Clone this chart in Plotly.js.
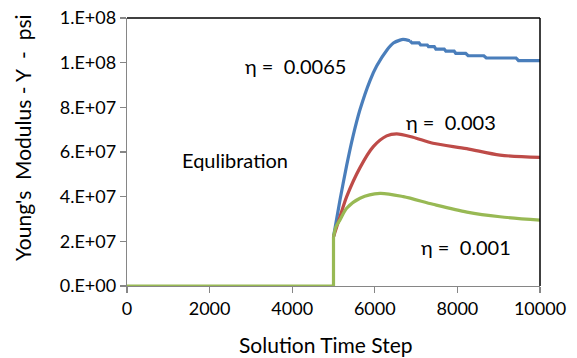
<!DOCTYPE html>
<html>
<head>
<meta charset="utf-8">
<script src="https://cdn.plot.ly/plotly-3.0.1.min.js"></script>
<style>html,body{margin:0;padding:0;background:#fff;}#chart{width:577px;height:358px;}</style>
</head>
<body>
<div id="chart"></div>
<script>
// Equilibration segment (shared by all three series)
const xFlat = [0, 5000, 5000];
const yFlat = [0, 0, 2.2e7];
// Series: eta = 0.0065 (blue) - rise, then stepped tail
const xBlueRise = [5000, 5157, 5319, 5472, 5642, 5884, 6045, 6295, 6450, 6610, 6683, 6850];
const yBlueRise = [2.2e7, 3.85e7, 5.4e7, 6.7e7, 7.9e7, 9.2e7, 9.85e7, 1.057e8, 1.088e8, 1.101e8, 1.104e8, 1.098e8];
const xBlueTail = [6850, 6900, 7070, 7110, 7270, 7300, 7440, 7480, 7680, 7720, 7920, 7960, 8200, 8260, 8640, 8700, 9420, 9480, 10000];
const yBlueTail = [1.098e8, 1.089e8, 1.089e8, 1.079e8, 1.079e8, 1.072e8, 1.072e8, 1.061e8, 1.061e8, 1.052e8, 1.052e8, 1.042e8, 1.042e8, 1.031e8, 1.031e8, 1.021e8, 1.021e8, 1.009e8, 1.009e8];
// Series: eta = 0.003 (red)
const xRed = [5000, 5157, 5319, 5642, 5964, 6287, 6530, 6925, 7409, 8225, 9031, 10000];
const yRed = [2.2e7, 3.10e7, 4.0e7, 5.3e7, 6.24e7, 6.72e7, 6.81e7, 6.66e7, 6.39e7, 6.15e7, 5.86e7, 5.76e7];
// Series: eta = 0.001 (green)
const xGreen = [5000, 5060, 5157, 5319, 5642, 6126, 6691, 7409, 8232, 9031, 10000];
const yGreen = [2.2e7, 2.65e7, 2.96e7, 3.48e7, 3.93e7, 4.15e7, 4.0e7, 3.66e7, 3.31e7, 3.10e7, 2.95e7];

const yTickVals = [0, 2e7, 4e7, 6e7, 8e7, 1e8, 1.2e8];
const yTickText = ['0.E+00', '2.E+07', '4.E+07', '6.E+07', '8.E+07', '1.E+08', '1.E+08'];
const xTickVals = [0, 2000, 4000, 6000, 8000, 10000];

const font = 'Lato, "Open Sans", sans-serif';
const line = (x, y, c, shape) => ({x: x, y: y, type: 'scatter', mode: 'lines', line: {color: c, width: 3.2, shape: shape, smoothing: 0.8}, hoverinfo: 'none'});

const data = [
  line(xBlueRise, yBlueRise, '#4A7EBB', 'spline'),
  line(xBlueTail, yBlueTail, '#4A7EBB', 'linear'),
  line(xRed, yRed, '#BE4B48', 'spline'),
  line(xGreen, yGreen, '#98B954', 'spline'),
  line(xFlat, yFlat, '#98B954', 'linear')
];

const layout = {
  width: 577, height: 358,
  margin: {l: 127, r: 37, t: 18, b: 72},
  paper_bgcolor: '#fff', plot_bgcolor: '#fff',
  showlegend: false,
  font: {family: font, size: 18, color: '#000'},
  xaxis: {
    range: [0, 10000], tickvals: xTickVals, ticktext: xTickVals.map(String),
    showgrid: false, zeroline: false, showline: true, linecolor: '#868686', linewidth: 1.3,
    ticks: 'outside', ticklen: 6, tickcolor: '#868686', tickwidth: 1.3,
    tickfont: {family: font, size: 18, color: '#000'}
  },
  yaxis: {
    range: [0, 1.2e8], tickvals: yTickVals, ticktext: yTickText,
    showgrid: false, zeroline: false, showline: true, linecolor: '#868686', linewidth: 1.3,
    ticks: 'outside', ticklen: 6, tickcolor: '#868686', tickwidth: 1.3,
    tickfont: {family: font, size: 18, color: '#000'}
  },
  shapes: [
    {type: 'line', xref: 'paper', yref: 'paper', x0: 0, x1: 1, y0: 1, y1: 1, line: {color: '#000', width: 1.5}},
    {type: 'line', xref: 'paper', yref: 'paper', x0: 1, x1: 1, y0: 0, y1: 1, line: {color: '#000', width: 1.5}}
  ],
  annotations: [
    {xref: 'paper', yref: 'paper', x: (243 - 127) / 413, y: (286 - 66) / 268, xanchor: 'left', yanchor: 'middle', text: 'η =  0.0065', showarrow: false, font: {family: font, size: 20}},
    {xref: 'paper', yref: 'paper', x: (404 - 127) / 413, y: (286 - 122) / 268, xanchor: 'left', yanchor: 'middle', text: 'η =  0.003', showarrow: false, font: {family: font, size: 20}},
    {xref: 'paper', yref: 'paper', x: (419 - 127) / 413, y: (286 - 247) / 268, xanchor: 'left', yanchor: 'middle', text: 'η =  0.001', showarrow: false, font: {family: font, size: 20}},
    {xref: 'paper', yref: 'paper', x: (180 - 127) / 413, y: (286 - 160) / 268, xanchor: 'left', yanchor: 'middle', text: 'Equlibration', showarrow: false, font: {family: font, size: 20}},
    {xref: 'paper', yref: 'paper', x: (326 - 127) / 413, y: (286 - 344) / 268, xanchor: 'center', yanchor: 'middle', text: 'Solution Time Step', showarrow: false, font: {family: font, size: 21}},
    {xref: 'paper', yref: 'paper', x: (22 - 127) / 413, y: (286 - 138) / 268, xanchor: 'center', yanchor: 'middle', textangle: -90, text: "Young's  Modulus - Y  -  psi", showarrow: false, font: {family: font, size: 21}}
  ]
};

Plotly.newPlot('chart', data, layout, {staticPlot: true, displayModeBar: false});
</script>
</body>
</html>
